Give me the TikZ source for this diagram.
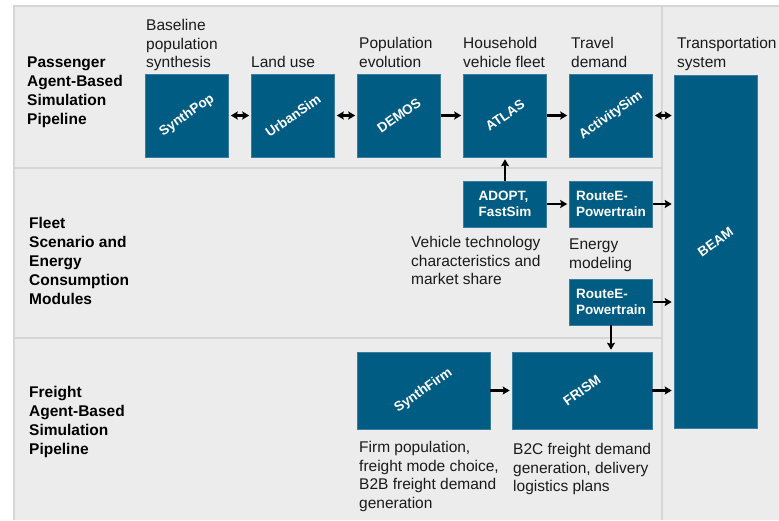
\documentclass[tikz,border=0pt]{standalone}
\usepackage{fontspec}
\setmainfont{Liberation Sans}
\usetikzlibrary{positioning,arrows.meta}

\definecolor{boxblue}{RGB}{0,92,131}
\definecolor{boxedge}{RGB}{60,124,160}
\definecolor{panelbg}{RGB}{236,236,236}
\definecolor{panelline}{RGB}{214,214,214}
\definecolor{ink}{RGB}{26,26,26}

\newcommand{\tiltlabel}[1]{\rotatebox{35}{#1}}

\tikzset{
  module/.style={rectangle,fill=boxblue,draw=boxedge,line width=0.6pt,text=white,
    font=\fontsize{13.5}{16}\selectfont\bfseries,inner sep=0pt,align=left},
  bigmod/.style={module,minimum width=83pt,minimum height=83pt},
  smallmod/.style={module,minimum width=83pt,minimum height=46pt},
  caption/.style={anchor=north west,inner sep=0pt,align=left,text=ink,
    font=\fontsize{15.5}{18.7}\selectfont},
  rowtitle/.style={caption,text=black,font=\fontsize{15.5}{19}\selectfont\bfseries},
  flow/.style={-{Stealth[length=7pt,width=8pt,inset=1.2pt]},line width=2.2pt,shorten >=2pt},
  twoway/.style={flow,{Stealth[length=7pt,width=8pt,inset=1.2pt]}-{Stealth[length=7pt,width=8pt,inset=1.2pt]},
    shorten <=2pt}
}

\begin{document}
\begin{tikzpicture}[x=1pt,y=-1pt,node distance=106pt,on grid]
  \useasboundingbox (0,0) rectangle (779,520);
  \fill[white] (0,0) rectangle (779,520);
  \fill[panelbg] (14,6) rectangle (779,520);
  \draw[panelline,line width=1.5pt] (779,6) -- (14,6) -- (14,520);
  \draw[panelline,line width=2pt] (14,168) -- (662,168) (14,338) -- (662,338) (662,6) -- (662,520);

  % row titles
  \node[rowtitle] (passtitle) at (27,57) {Passenger\\Agent-Based\\Simulation\\Pipeline};
  \node[rowtitle] (fleettitle) at (29,217) {Fleet\\Scenario and\\Energy\\Consumption\\Modules};
  \node[rowtitle] (freighttitle) at (29,386) {Freight\\Agent-Based\\Simulation\\Pipeline};

  % passenger pipeline
  \node[bigmod] (synthpop) at (187,115.5) {\tiltlabel{SynthPop}};
  \node[bigmod] (urbansim) [right=of synthpop] {\tiltlabel{UrbanSim}};
  \node[bigmod] (demos) [right=of urbansim] {\tiltlabel{DEMOS}};
  \node[bigmod] (atlas) [right=of demos] {\tiltlabel{ATLAS}};
  \node[bigmod] (activitysim) [right=of atlas] {\tiltlabel{ActivitySim}};

  \node[caption] (synthpopcap) at (146,19) {Baseline\\population\\synthesis};
  \node[caption] (urbansimcap) at (251,56) {Land use};
  \node[caption] (demoscap) at (359,37) {Population\\evolution};
  \node[caption] (atlascap) at (463,37) {Household\\vehicle fleet};
  \node[caption] (activitysimcap) at (571,37) {Travel\\demand};
  \node[caption] (beamcap) at (677,37) {Transportation\\system};

  % transportation system
  \node[module,minimum width=83pt,minimum height=353pt] (beam) at (715.5,251.5) {};
  \node[text=white,font=\fontsize{13.5}{16}\selectfont\bfseries,inner sep=0pt] (beamlabel)
    at ([yshift=9.5pt]beam.center) {\tiltlabel{BEAM}};

  % fleet and energy modules
  \node[smallmod] (adopt) [below=88.5pt of atlas] {ADOPT,\\FastSim};
  \node[smallmod] (routee1) [right=of adopt] {RouteE-\\Powertrain};
  \node[smallmod] (routee2) [below=98pt of routee1] {RouteE-\\Powertrain};

  \node[caption] (adoptcap) at (411,236) {Vehicle technology\\characteristics and\\market share};
  \node[caption] (routeecap) at (569,239) {Energy\\modeling};

  % freight pipeline
  \node[module,minimum width=133pt,minimum height=77pt] (synthfirm) at (423.5,390.5) {\tiltlabel{SynthFirm}};
  \node[module,minimum width=140pt,minimum height=77pt] (frism) at (582,390.5) {\tiltlabel{FRISM}};

  \node[caption] (synthfirmcap) at (359,441) {Firm population,\\freight mode choice,\\B2B freight demand\\generation};
  \node[caption] (frismcap) at (513,443) {B2C freight demand\\generation, delivery\\logistics plans};

  % connectors
  \path[twoway] (synthpop) edge (urbansim)
                (urbansim) edge (demos);
  \path[flow] (demos) edge (atlas)
              (atlas) edge (activitysim)
              (adopt) edge (atlas)
              (adopt) edge (routee1)
              (synthfirm) edge (frism);
  \draw[twoway] (activitysim.east) -- (activitysim.east -| beam.west);
  \draw[flow] (routee1.east) -- (routee1.east -| beam.west);
  \draw[flow] (routee2.east) -- (routee2.east -| beam.west);
  \draw[flow] (routee2.south) -- (routee2.south |- frism.north);
  \draw[flow] (frism.east) -- (frism.east -| beam.west);
\end{tikzpicture}
\end{document}
